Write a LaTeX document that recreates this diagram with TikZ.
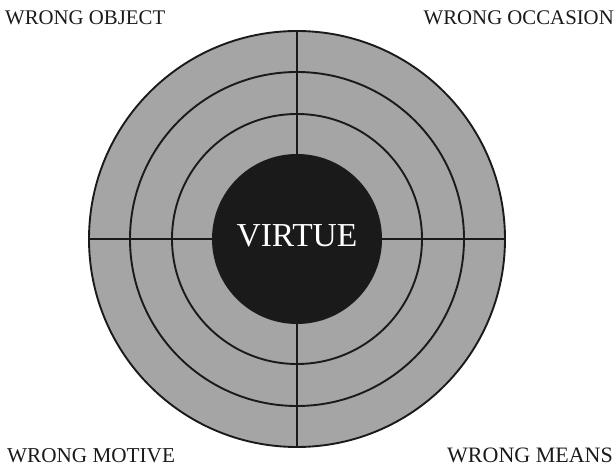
\documentclass[tikz,border=0pt]{standalone}
\usepackage{fontspec}
\setmainfont{Liberation Serif}
\definecolor{ringgray}{HTML}{A5A5A5}
\definecolor{coreblack}{HTML}{1A1A1A}
\begin{document}
\begin{tikzpicture}[x=1pt,y=1pt,
  ringline/.style={line width=1.9pt, draw=coreblack},
  label/.style={font=\fontsize{20.8}{24}\selectfont, text=coreblack, inner sep=0pt}]
\useasboundingbox (0,0) rectangle (616,468);
\coordinate (c) at (297,229);
\fill[ringgray] (c) circle (208);
\draw[ringline] (c) circle (208);
\draw[ringline] (c) circle (167);
\draw[ringline] (c) circle (125);
\coordinate (l) at (89,229);
\coordinate (r) at (505,229);
\coordinate (t) at (297,437);
\coordinate (b) at (297,21);
\draw[ringline] (l) -- (r);
\draw[ringline] (t) -- (b);
\node[circle, fill=coreblack, minimum size=170pt, inner sep=0pt] (virtue) at (c) {};
\node[anchor=base, font=\fontsize{33.5}{36}\selectfont, text=white, inner sep=0pt] (vt) at (297,221) {VIRTUE};
\node[label, anchor=base west] (wo) at (5,443) {WRONG OBJECT};
\node[label, anchor=base east] (wc) at (614,443) {WRONG OCCASION};
\node[label, anchor=base west, font=\fontsize{21.2}{24}\selectfont] (wm) at (7,5) {WRONG MOTIVE};
\node[label, anchor=base east, font=\fontsize{22}{24}\selectfont] (wn) at (613,5) {WRONG MEANS};
\end{tikzpicture}
\end{document}
